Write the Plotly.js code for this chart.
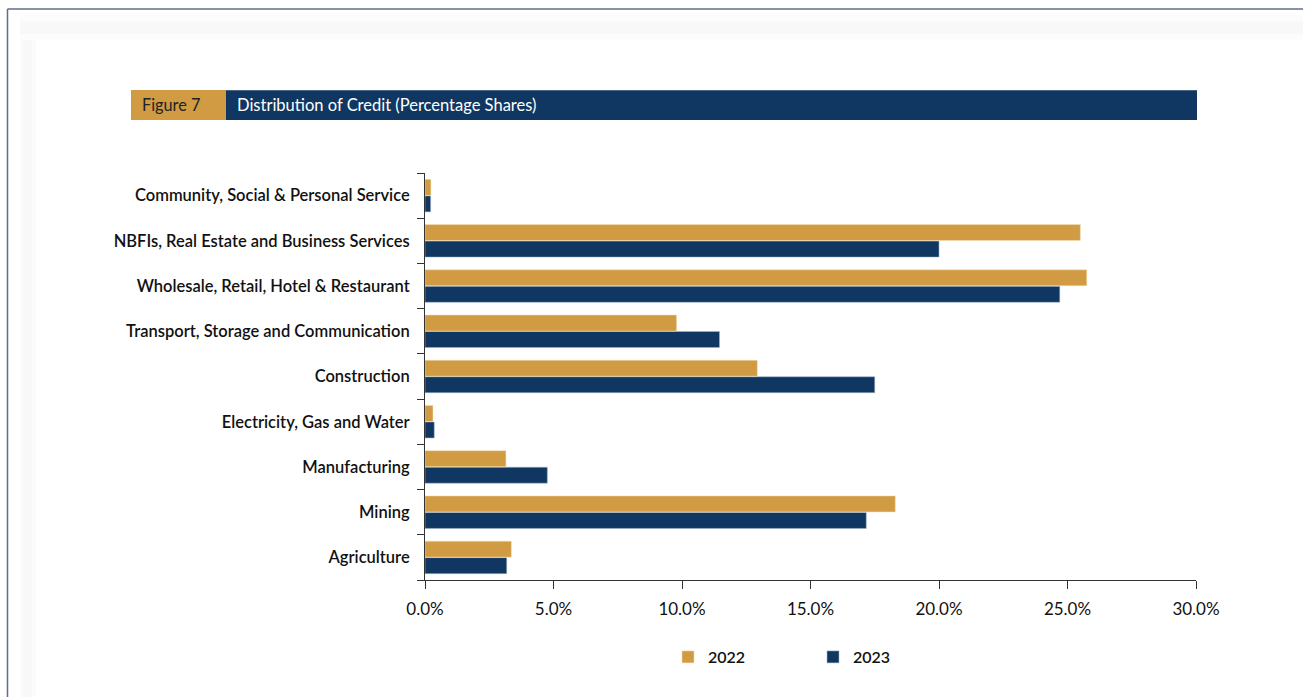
<!DOCTYPE html>
<html>
<head>
<meta charset="utf-8">
<script src="https://cdn.plot.ly/plotly-3.0.1.min.js"></script>
<style>
html,body{margin:0;padding:0;background:#fff;}
#chart{width:1303px;height:697px;}
</style>
</head>
<body>
<div id="chart"></div>
<script>
var categories = [
  "Agriculture",
  "Mining",
  "Manufacturing",
  "Electricity, Gas and Water",
  "Construction",
  "Transport, Storage and Communication",
  "Wholesale, Retail, Hotel & Restaurant",
  "NBFIs, Real Estate and Business Services",
  "Community, Social & Personal Service"
];
var values2022 = [3.36, 18.3, 3.15, 0.31, 12.93, 9.79, 25.75, 25.5, 0.23];
var values2023 = [3.18, 17.17, 4.76, 0.36, 17.5, 11.46, 24.7, 20.0, 0.22];
var seriesNames = ["2022", "2023"];
var xTickVals = [0, 5, 10, 15, 20, 25, 30];
var xTickText = ["0.0%", "5.0%", "10.0%", "15.0%", "20.0%", "25.0%", "30.0%"];

var W = 1303, H = 697;
var M = {l: 425, r: 107, t: 173, b: 117};
var PW = W - M.l - M.r, PH = H - M.t - M.b;
function px(x){ return (x - M.l) / PW; }
function py(y){ return (H - M.b - y) / PH; }

var ORANGE = "#D09B42", NAVY = "#0F3761";
var FONT = "Lato, 'Open Sans', sans-serif";

var traces = [
  {type: "bar", orientation: "h", name: seriesNames[1], y: categories, x: values2023,
   marker: {color: NAVY, line: {color: "rgba(170,185,205,0.9)", width: 0.6}}},
  {type: "bar", orientation: "h", name: seriesNames[0], y: categories, x: values2022,
   marker: {color: ORANGE, line: {color: "rgba(245,225,180,0.9)", width: 0.6}}}
];

var shapes = [
  // soft shadow
  {type: "rect", xref: "paper", yref: "paper", x0: px(20), x1: px(1310), y0: py(15), y1: py(40), line: {width: 0}, fillcolor: "rgba(0,0,0,0.012)", layer: "below"},
  {type: "rect", xref: "paper", yref: "paper", x0: px(20), x1: px(1310), y0: py(21), y1: py(34), line: {width: 0}, fillcolor: "rgba(0,0,0,0.014)", layer: "below"},
  {type: "rect", xref: "paper", yref: "paper", x0: px(20), x1: px(36), y0: py(40), y1: py(700), line: {width: 0}, fillcolor: "rgba(0,0,0,0.014)", layer: "below"},
  {type: "rect", xref: "paper", yref: "paper", x0: px(23), x1: px(32), y0: py(40), y1: py(700), line: {width: 0}, fillcolor: "rgba(0,0,0,0.012)", layer: "below"},
  // frame
  {type: "line", xref: "paper", yref: "paper", x0: px(7.5), x1: px(1310), y0: py(9), y1: py(9), line: {color: "#5b6f88", width: 1.5}},
  {type: "line", xref: "paper", yref: "paper", x0: px(7.5), x1: px(7.5), y0: py(9), y1: py(700), line: {color: "#5b6f88", width: 1.5}},
  // header boxes
  {type: "rect", xref: "paper", yref: "paper", x0: px(131), x1: px(226), y0: py(90), y1: py(120), line: {width: 0}, fillcolor: ORANGE},
  {type: "rect", xref: "paper", yref: "paper", x0: px(226), x1: px(1197), y0: py(90), y1: py(120), line: {width: 0}, fillcolor: NAVY},
  {type: "line", xref: "paper", yref: "paper", x0: px(226), x1: px(1197), y0: py(90.5), y1: py(90.5), line: {color: "#4a6584", width: 1}}
];

var annotations = [
  {xref: "paper", yref: "paper", x: px(140), y: py(105), xanchor: "left", yanchor: "middle", showarrow: false,
   text: "Figure 7", font: {family: FONT, size: 16.3, color: "#222"}},
  {xref: "paper", yref: "paper", x: px(235), y: py(105), xanchor: "left", yanchor: "middle", showarrow: false,
   text: "Distribution of Credit (Percentage Shares)", font: {family: FONT, size: 16.5, color: "#ffffff"}}
];

var layout = {
  width: W, height: H,
  margin: M,
  paper_bgcolor: "#ffffff",
  plot_bgcolor: "rgba(0,0,0,0)",
  barmode: "group",
  bargap: 0.27,
  bargroupgap: 0.03,
  showlegend: true,
  legend: {orientation: "h", x: px(668), xanchor: "left", y: py(657), yanchor: "middle",
    traceorder: "reversed", itemwidth: 30, entrywidth: 100, entrywidthmode: "pixels",
    font: {family: FONT, size: 16, color: "#111", weight: 600}},
  xaxis: {
    range: [0, 30], tickvals: xTickVals, ticktext: xTickText,
    showgrid: false, zeroline: false, showline: true, linecolor: "#333", linewidth: 1,
    ticks: "outside", ticklen: 8, tickcolor: "#333", tickwidth: 1, ticklabelstandoff: 6,
    tickfont: {family: FONT, size: 17, color: "#111"}
  },
  yaxis: {
    type: "category", categoryorder: "array", categoryarray: categories,
    showgrid: false, zeroline: false, showline: true, linecolor: "#333", linewidth: 1,
    ticks: "outside", ticklen: 7, tickcolor: "#333", tickson: "boundaries",
    tickfont: {family: FONT, size: 16.5, color: "#111", weight: 600},
    ticklabelstandoff: 11
  },
  shapes: shapes,
  annotations: annotations
};

Plotly.newPlot("chart", traces, layout, {displayModeBar: false, staticPlot: true});
</script>
</body>
</html>
